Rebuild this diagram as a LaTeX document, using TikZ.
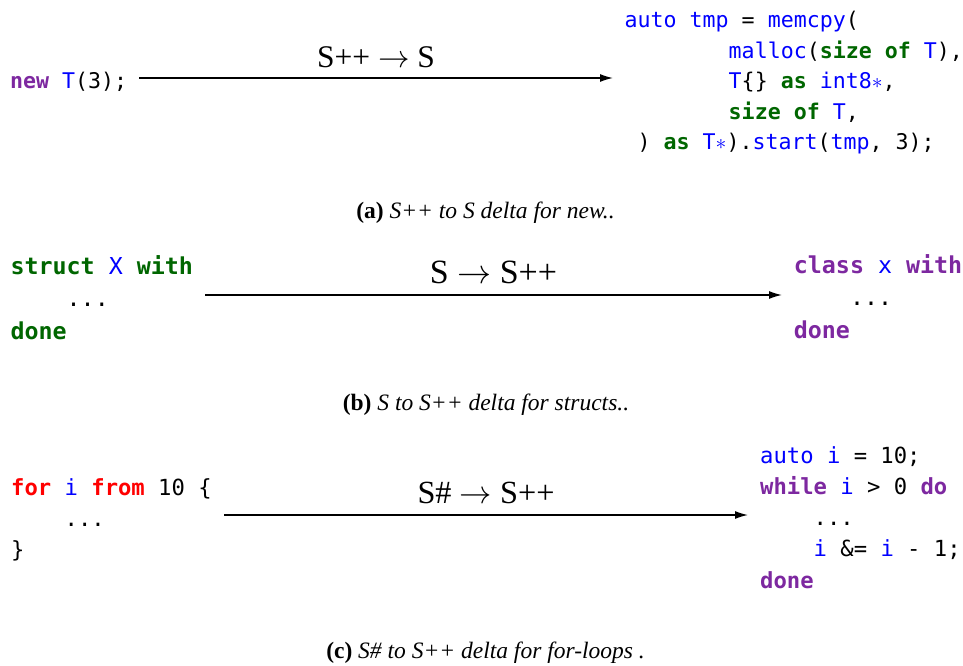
\RequirePackage{fix-cm}
\documentclass[tikz,border=0pt]{standalone}
\usepackage{fontspec}
\setmainfont{Liberation Serif}
\setmonofont{DejaVu Sans Mono}
\usetikzlibrary{arrows.meta}
\definecolor{kpur}{RGB}{125,40,160}
\definecolor{kblu}{RGB}{0,0,255}
\definecolor{kgrn}{RGB}{0,102,0}
\definecolor{kred}{RGB}{255,0,0}
\newcommand\KP[1]{\textcolor{kpur}{\bfseries #1}}
\newcommand\KG[1]{\textcolor{kgrn}{\bfseries #1}}
\newcommand\KR[1]{\textcolor{kred}{\bfseries #1}}
\newcommand\ID[1]{\textcolor{kblu}{#1}}
\newcommand\SPf{\hphantom{0000}}
\newcommand\SPe{\hphantom{00000000}}
\tikzset{
  codebase/.style={anchor=base west, inner sep=0pt},
  codeA/.style={codebase, font=\fontsize{21.6}{30.5}\selectfont\ttfamily},
  codeB/.style={codebase, font=\fontsize{23.3}{32.5}\selectfont\ttfamily},
  codeC/.style={codebase, font=\fontsize{22.2}{31.3}\selectfont\ttfamily},
  arr/.style={line width=1.3pt, -{Latex[length=13pt,width=8pt]}},
  lbl/.style={midway, anchor=base, inner sep=0pt},
  captext/.style={anchor=base, inner sep=0pt, font=\fontsize{23.5}{28}\selectfont},
}
\begin{document}
\begin{tikzpicture}[x=1pt,y=-1pt]
\useasboundingbox (0,0) rectangle (963,666);
% ---------- (a)
\node[codeA] (ain) at (10,89) {\KP{new} \ID{T}(3);};
\node[codeA] (aout) at (624.5,28) {\begin{tabular}[t]{@{}l@{}}
\ID{auto} \ID{tmp} = \ID{memcpy}(\\
\SPe\ID{malloc}(\KG{size} \KG{of} \ID{T}),\\
\SPe\ID{T}\{\} \KG{as} \ID{int8$\ast$},\\
\SPe\KG{size} \KG{of} \ID{T},\\
\hphantom{0}) \KG{as} \ID{T$\ast$}).\ID{start}(\ID{tmp}, 3);
\end{tabular}};
\coordinate (as) at (139,78);
\coordinate (ae) at (613,78);
\draw[arr] (as) -- node[lbl, yshift=10pt, font=\fontsize{31.5}{36}\selectfont] (alab) {S++ $\rightarrow$ S} (ae);
\node[captext] (acap) at (485.5,218) {\textbf{(a)} \textit{S++ to S delta for new..}};
% ---------- (b)
\node[codeB] (bin) at (10.4,274) {\begin{tabular}[t]{@{}l@{}}
\KG{struct} \ID{X} \KG{with}\\
\SPf...\\
\KG{done}
\end{tabular}};
\node[codeB] (bout) at (793.7,273) {\begin{tabular}[t]{@{}l@{}}
\KP{class} \ID{x} \KP{with}\\
\SPf...\\
\KP{done}
\end{tabular}};
\coordinate (bs) at (205,295);
\coordinate (be) at (782,295);
\draw[arr] (bs) -- node[lbl, yshift=12pt, font=\fontsize{34}{40}\selectfont] (blab) {S $\rightarrow$ S++} (be);
\node[captext] (bcap) at (486,410) {\textbf{(b)} \textit{S to S++ delta for structs..}};
% ---------- (c)
\node[codeC] (cin) at (11,495) {\begin{tabular}[t]{@{}l@{}}
\KR{for} \ID{i} \KR{from} 10 \{\\
\SPf...\\
\}
\end{tabular}};
\node[codeC] (cout) at (760,463) {\begin{tabular}[t]{@{}l@{}}
\ID{auto} \ID{i} = 10;\\
\KP{while} \ID{i} > 0 \KP{do}\\
\SPf...\\
\SPf\ID{i} \&= \ID{i} - 1;\\
\KP{done}
\end{tabular}};
\coordinate (cs) at (224,515);
\coordinate (ce) at (748,515);
\draw[arr] (cs) -- node[lbl, yshift=12pt, font=\fontsize{32.3}{38}\selectfont] (clab) {S\# $\rightarrow$ S++} (ce);
\node[captext] (ccap) at (485.5,658) {\textbf{(c)} \textit{S\# to S++ delta for for-loops .}};
\end{tikzpicture}
\end{document}
